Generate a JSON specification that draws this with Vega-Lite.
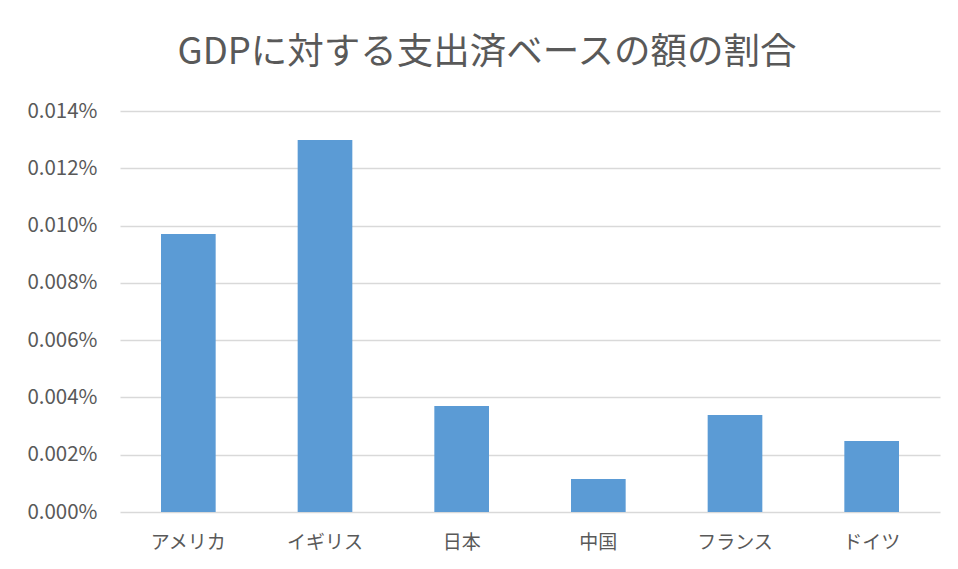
{
  "$schema": "https://vega.github.io/schema/vega-lite/v6.json",
  "width": 820,
  "height": 401,
  "autosize": {"type": "none"},
  "padding": {"left": 120, "top": 111, "right": 18, "bottom": 57},
  "background": "white",
  "title": {
    "text": "GDPに対する支出済ベースの額の割合",
    "font": "Noto Sans CJK JP",
    "fontSize": 36.5,
    "fontWeight": "normal",
    "color": "#595959",
    "anchor": "middle",
    "dx": -43,
    "offset": 30
  },
  "data": {
    "values": [
      {"country": "アメリカ", "share": 0.0000971},
      {"country": "イギリス", "share": 0.0001299},
      {"country": "日本", "share": 0.0000370},
      {"country": "中国", "share": 0.0000115},
      {"country": "フランス", "share": 0.0000339},
      {"country": "ドイツ", "share": 0.0000248}
    ]
  },
  "mark": {"type": "bar", "color": "#5b9bd5"},
  "encoding": {
    "x": {
      "field": "country",
      "type": "nominal",
      "sort": null,
      "scale": {"paddingInner": 0.6, "paddingOuter": 0.3},
      "axis": {
        "title": null,
        "labelAngle": 0,
        "ticks": false,
        "domain": false,
        "labelPadding": 21,
        "labelFont": "Noto Sans CJK JP",
        "labelFontSize": 19,
        "labelColor": "#595959"
      }
    },
    "y": {
      "field": "share",
      "type": "quantitative",
      "scale": {"domain": [0, 0.00014], "nice": false},
      "axis": {
        "title": null,
        "format": ".3%",
        "values": [0, 0.00002, 0.00004, 0.00006, 0.00008, 0.0001, 0.00012, 0.00014],
        "ticks": false,
        "domain": false,
        "grid": true,
        "gridColor": "#d9d9d9",
        "gridWidth": 1.5,
        "labelPadding": 23,
        "labelFont": "Noto Sans CJK JP",
        "labelFontSize": 20.5,
        "labelColor": "#595959"
      }
    }
  },
  "config": {"view": {"stroke": null}}
}
